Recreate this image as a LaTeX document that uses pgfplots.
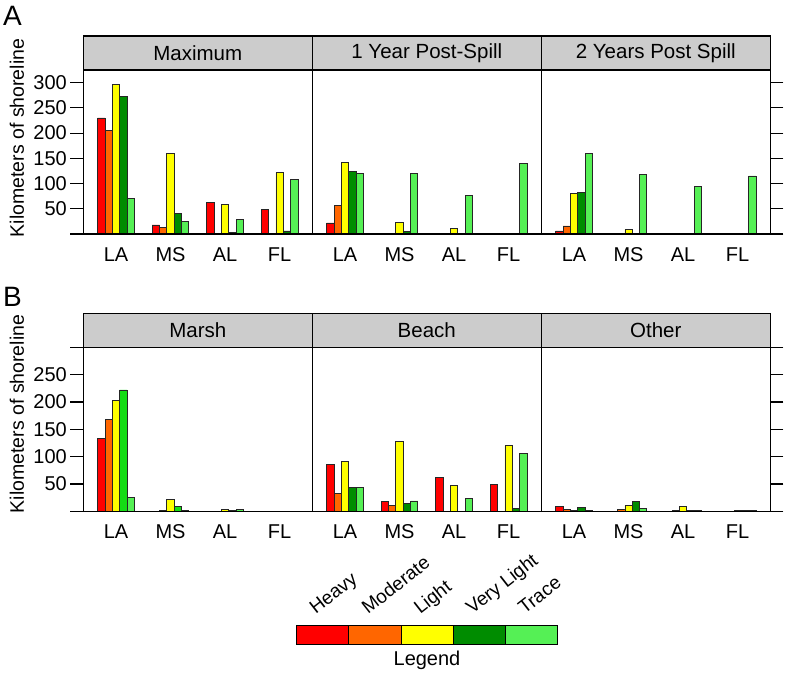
\documentclass[border=0pt]{standalone}
\usepackage{fontspec}
\setmainfont{Liberation Sans}
\usepackage{pgfplots}
\usepackage{pgfplotstable}
\pgfplotsset{compat=1.18}

\definecolor{cH}{RGB}{255,0,0}
\definecolor{cM}{RGB}{255,102,0}
\definecolor{cL}{RGB}{255,255,0}
\definecolor{cV}{RGB}{0,140,0}
\definecolor{cT}{RGB}{85,240,85}
\definecolor{cVm}{RGB}{20,220,20}
\definecolor{stripgray}{RGB}{204,204,204}

\pgfplotstableread{
x H M L V T
1 230 206 297 272 70
2 18 13 159 41 25
3 62 1 59 3 29
4 49 0 122 6 108
}\tMax
\pgfplotstableread{
x H M L V T
1 22 56 142 124 120
2 0 0 23 5 120
3 0 0 11 1 77
4 0 0 0 0 140
}\tOne
\pgfplotstableread{
x H M L V T
1 6 16 81 83 160
2 1 0 9 0 118
3 0 0 1 0 94
4 0 0 0 0 115
}\tTwo
\pgfplotstableread{
x H M L V T
1 134 168 202 222 25
2 0 1 21 9 2
3 0 0 3 1 4
4 0 0 0 0 0
}\tMarsh
\pgfplotstableread{
x H M L V T
1 86 33 91 43 43
2 18 10 128 15 19
3 62 0 47 0 24
4 49 0 120 5 106
}\tBeach
\pgfplotstableread{
x H M L V T
1 9 4 1 7 2
2 0 3 11 18 5
3 0 1 9 1 1
4 0 0 1 2 2
}\tOther

\newcommand\tickfont{\fontsize{20}{23}\selectfont}
\newcommand\stripfont{\fontsize{20.5}{24}\selectfont}
\newcommand\labfont{\fontsize{19.5}{23}\selectfont}

\pgfplotsset{
  panel/.style={
    scale only axis, width=229pt, height=164pt,
    anchor=south west,
    ybar=0pt, bar width=7.33pt,
    xmin=0.4, xmax=4.6, ymin=0,
    axis on top, clip=false,
    xtick={1,2,3,4}, xticklabels={LA,MS,AL,FL},
    xtick style={draw=none},
    xticklabel style={yshift=3pt},
    axis line style={line width=1.1pt},
    ytick style={line width=1.1pt, black},
    major tick length=13pt, tick align=outside,
    ticklabel style={font=\tickfont},
    /pgf/number format/assume math mode=true,
    every axis plot/.append style={draw=black!85, line width=0.75pt},
  },
  leftp/.style={ytick pos=left, ytick={0,50,...,300}},
  midp/.style={ytick=\empty},
  rightp/.style={ytick pos=right, ytick={0,50,...,300}, yticklabels={}},
}

\newcommand\strip[1]{%
  \draw[fill=stripgray, line width=1.1pt] (rel axis cs:0,1) rectangle ([yshift=34pt]rel axis cs:1,1);
  \node[font=\stripfont] at ([yshift=17pt]rel axis cs:0.5,1) {#1};}

\newcommand\bars[2]{%
  \addplot[fill=cH] table[x=x,y=H] {#1};
  \addplot[fill=cM] table[x=x,y=M] {#1};
  \addplot[fill=cL] table[x=x,y=L] {#1};
  \addplot[fill=#2] table[x=x,y=V] {#1};
  \addplot[fill=cT] table[x=x,y=T] {#1};}

\begin{document}
\begin{tikzpicture}
\path[use as bounding box] (0pt,0pt) rectangle (788pt,676pt);

% Panel A
\begin{axis}[panel, leftp, at={(83.3pt,442pt)}, ymax=325, yticklabels={,50,100,150,200,250,300}]
\bars{\tMax}{cV}
\strip{Maximum}
\end{axis}
\begin{axis}[panel, midp, at={(312.3pt,442pt)}, ymax=325]
\bars{\tOne}{cV}
\strip{1 Year Post-Spill}
\end{axis}
\begin{axis}[panel, rightp, at={(541.3pt,442pt)}, ymax=325]
\bars{\tTwo}{cV}
\strip{2 Years Post Spill}
\end{axis}

% Panel B
\begin{axis}[panel, leftp, at={(83.3pt,164.7pt)}, ymax=300, yticklabels={,50,100,150,200,250,}]
\bars{\tMarsh}{cVm}
\strip{Marsh}
\end{axis}
\begin{axis}[panel, midp, at={(312.3pt,164.7pt)}, ymax=300]
\bars{\tBeach}{cV}
\strip{Beach}
\end{axis}
\begin{axis}[panel, rightp, at={(541.3pt,164.7pt)}, ymax=300]
\bars{\tOther}{cV}
\strip{Other}
\end{axis}

% axis titles
\node[font=\labfont, rotate=90] at (17pt,538pt) {Kilometers of shoreline};
\node[font=\labfont, rotate=90] at (17pt,262pt) {Kilometers of shoreline};
\node[font=\fontsize{28}{30}\selectfont] at (12.5pt,660.5pt) {A};
\node[font=\fontsize{28}{30}\selectfont] at (12.5pt,379pt) {B};

% legend
\foreach \c/\lab [count=\i from 0] in {cH/Heavy,cM/Moderate,cL/Light,cV/Very Light,cT/Trace}{
  \draw[fill=\c, line width=0.9pt] (296.7pt+\i*52.2pt,32pt) rectangle (296.7pt+\i*52.2pt+52.2pt,51pt);
  \node[font=\fontsize{19}{22}\selectfont, rotate=38, anchor=base west, inner sep=0pt] at (296.7pt+\i*52.2pt+19pt,61pt) {\lab};
}
\node[font=\fontsize{20}{23}\selectfont] at (427pt,16pt) {Legend};
\end{tikzpicture}
\end{document}
